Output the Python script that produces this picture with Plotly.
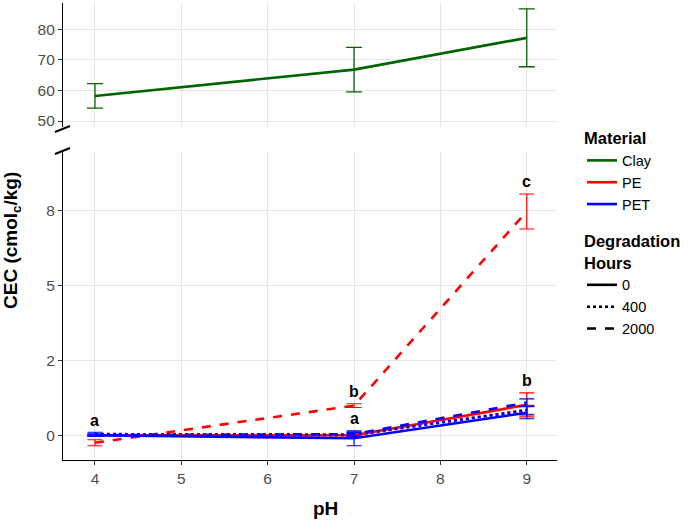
import plotly.graph_objects as go

# ---------------- data ----------------
ph = [4, 7, 9]
hours = ["0", "400", "2000"]

clay_cec = [58.2, 66.8, 77.2]
clay_err = [4.0, 7.3, 9.45]

pe_cec = {
    "0": [0.0, 0.0, 0.81],
    "400": [0.0, 0.0, 0.68],
    "2000": [-0.2, 0.79, 7.95],
}
pe_err = {
    "0": [0.02, 0.03, 0.32],
    "400": [0.02, 0.03, 0.12],
    "2000": [0.08, 0.05, 0.7],
}
pet_cec = {
    "0": [0.0, -0.08, 0.60],
    "400": [0.03, 0.02, 0.66],
    "2000": [0.0, 0.03, 0.87],
}
pet_err = {
    "0": [0.03, 0.2, 0.16],
    "400": [0.05, 0.05, 0.12],
    "2000": [0.03, 0.06, 0.1],
}

# significance letters: (pH, letter, which series it sits above)
letter_ph = [4, 7, 7, 9, 9]
letter_txt = ["a", "b", "a", "c", "b"]
letter_grp = ["all", "hi", "rest", "hi", "rest"]

low_ticks = [0, 2, 5, 8]
top_ticks = [50, 60, 70, 80]

# ---------------- styling ----------------
FONT = "Liberation Sans, Arial, sans-serif"
COL = {"Clay": "#006400", "PE": "#ff0000", "PET": "#0000ff"}
DASH = {"0": "solid", "400": "dot", "2000": "dash"}
GRID = "#e6e6e6"
W, H = 690, 521
L, R, T, B = 63, 557, 3, 460  # plot area in px


def px_x(x):
    return (x - L) / (R - L)


def px_y(y):
    return (B - y) / (B - T)


def tr(v):
    # broken-scale transform of the lower panel (0-2 stretched)
    return 1.5 * v if v < 2 else 3 + (v - 2)


fig = go.Figure()

# Clay (top panel)
fig.add_trace(go.Scatter(
    x=ph, y=clay_cec, mode="lines", xaxis="x2", yaxis="y2",
    line=dict(color=COL["Clay"], width=2.6),
    error_y=dict(type="data", array=clay_err, color=COL["Clay"], thickness=1.3, width=8),
    showlegend=False, hoverinfo="skip"))

# PE / PET (bottom panel)
for mat, vals, errs in [("PE", pe_cec, pe_err), ("PET", pet_cec, pet_err)]:
    for h in hours:
        v = vals[h]
        e = errs[h]
        y = [tr(a) for a in v]
        up = [tr(a + b) - tr(a) for a, b in zip(v, e)]
        dn = [tr(a) - tr(a - b) for a, b in zip(v, e)]
        fig.add_trace(go.Scatter(
            x=ph, y=y, mode="lines", xaxis="x", yaxis="y",
            line=dict(color=COL[mat], width=2.6, dash=DASH[h]),
            error_y=dict(type="data", symmetric=False, array=up, arrayminus=dn,
                         color=COL[mat], thickness=1.2, width=7.5),
            showlegend=False, hoverinfo="skip"))

# legend entries
for mat in ["Clay", "PE", "PET"]:
    fig.add_trace(go.Scatter(x=[None], y=[None], mode="lines", name=mat,
                             line=dict(color=COL[mat], width=2.6), legend="legend"))
for h in hours:
    fig.add_trace(go.Scatter(x=[None], y=[None], mode="lines", name=h,
                             line=dict(color="black", width=2.6, dash=DASH[h]), legend="legend2"))

# letters
for p, txt, grp in zip(letter_ph, letter_txt, letter_grp):
    i = ph.index(p)
    tops = []
    for mat, vals, errs in [("PE", pe_cec, pe_err), ("PET", pet_cec, pet_err)]:
        for h in hours:
            is_hi = (mat == "PE" and h == "2000")
            if grp == "all" or (grp == "hi" and is_hi) or (grp == "rest" and not is_hi):
                tops.append(vals[h][i] + errs[h][i])
    fig.add_annotation(x=p, y=tr(max(tops)), xref="x", yref="y", text="<b>%s</b>" % txt,
                       showarrow=False, yshift=12, yanchor="middle",
                       font=dict(family=FONT, size=16, color="black"))

axis_common = dict(showgrid=True, gridcolor=GRID, gridwidth=1, zeroline=False,
                   tickfont=dict(family=FONT, size=15.5, color="#4d4d4d"))

top_dom = [px_y(127), 1]
bot_dom = [0, px_y(152)]

fig.update_layout(
    width=W, height=H,
    margin=dict(l=L, r=W - R, t=T, b=H - B),
    paper_bgcolor="white", plot_bgcolor="white",
    font=dict(family=FONT, color="black"),
    xaxis=dict(domain=[0, 1], range=[3.63, 9.35], tickvals=[4, 5, 6, 7, 8, 9],
               showline=True, linecolor="black", linewidth=1.2, ticks="outside",
               ticklen=4, tickcolor="#333333", anchor="y", **axis_common),
    yaxis=dict(domain=bot_dom, range=[-0.99, 11.33], tickvals=[tr(t) for t in low_ticks],
               ticktext=[str(t) for t in low_ticks], showline=True, linecolor="black",
               linewidth=1.2, ticks="outside", ticklen=4, tickcolor="#333333",
               anchor="x", **axis_common),
    xaxis2=dict(domain=[0, 1], matches="x", tickvals=[4, 5, 6, 7, 8, 9], showticklabels=False,
                showline=False, anchor="y2", **axis_common),
    yaxis2=dict(domain=top_dom, range=[48.04, 88.6], tickvals=top_ticks, showline=True,
                linecolor="black", linewidth=1.2, ticks="outside", ticklen=4,
                tickcolor="#333333", anchor="x2", **axis_common),
    legend=dict(x=px_x(582), y=px_y(123), xanchor="left", yanchor="top",
                title=dict(text="<b>Material</b>", font=dict(family=FONT, size=16.5, color="black")),
                font=dict(family=FONT, size=14.5, color="black"), itemwidth=30,
                bgcolor="rgba(0,0,0,0)", tracegroupgap=0),
    legend2=dict(x=px_x(582), y=px_y(226), xanchor="left", yanchor="top",
                 title=dict(text="<b>Degradation<br>Hours</b>", font=dict(family=FONT, size=16.5, color="black")),
                 font=dict(family=FONT, size=14.5, color="black"), itemwidth=30,
                 bgcolor="rgba(0,0,0,0)", tracegroupgap=0),
)

# axis titles
fig.add_annotation(x=px_x(12), y=px_y(241), xref="paper", yref="paper",
                   xanchor="center", yanchor="middle",
                   text="<b>CEC (cmol<sub>c</sub>/kg)</b>", textangle=-90, showarrow=False,
                   font=dict(family=FONT, size=19, color="black"))
fig.add_annotation(x=px_x(325), y=px_y(508), xref="paper", yref="paper",
                   xanchor="center", yanchor="middle",
                   text="<b>pH</b>", showarrow=False,
                   font=dict(family=FONT, size=19, color="black"))

# axis break marks
for (x0, y0, x1, y1) in [(55, 132, 70, 126), (55, 154, 70, 148)]:
    fig.add_shape(type="line", xref="paper", yref="paper",
                  x0=px_x(x0), y0=px_y(y0), x1=px_x(x1), y1=px_y(y1),
                  line=dict(color="black", width=2))

fig.write_html("out.html")
